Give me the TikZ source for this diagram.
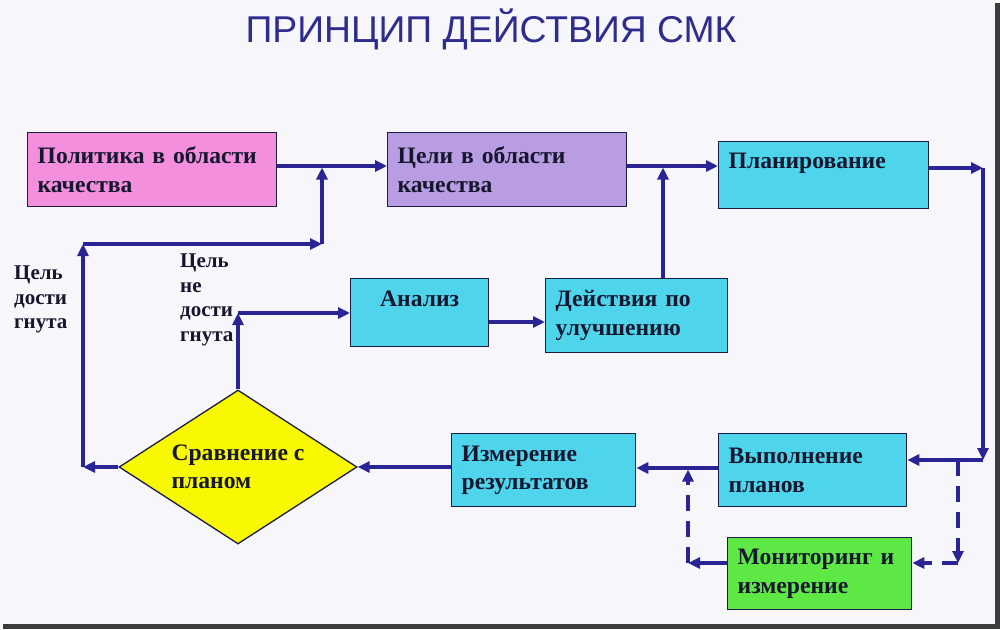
\documentclass[tikz,border=0pt]{standalone}
\usepackage{fontspec}
\setmainfont{Liberation Serif}
\newfontfamily\titlefont{Liberation Sans}
\usetikzlibrary{shapes.geometric,arrows.meta}
\definecolor{bg}{HTML}{F7F7FB}
\definecolor{frame}{HTML}{3C3C3C}
\definecolor{navy}{HTML}{2B2494}
\definecolor{titlec}{HTML}{2E2C8C}
\definecolor{boxline}{HTML}{1C1C44}
\definecolor{txt}{HTML}{16162E}
\definecolor{pinkc}{HTML}{F48FDE}
\definecolor{purplec}{HTML}{B89DE2}
\definecolor{cyanc}{HTML}{4ED5EC}
\definecolor{yellowc}{HTML}{F8F800}
\definecolor{greenc}{HTML}{5EE845}
\begin{document}
\begin{tikzpicture}[x=1pt,y=-1pt,
  box/.style={draw=boxline,line width=1.3pt,anchor=north west,inner xsep=10pt,inner ysep=0pt,
    align=left,font=\fontsize{23.6}{28.5}\selectfont\bfseries,text=txt},
  lbl/.style={anchor=north west,inner sep=0pt,align=left,text=txt,
    font=\fontsize{21}{24.5}\selectfont\bfseries},
  conn/.style={draw=navy,line width=3.5pt,-{Triangle[length=12pt,width=11pt]}},
  dconn/.style={conn,dash pattern=on 16pt off 10pt}]
\fill[bg] (0,0) rectangle (1000,629);
\useasboundingbox (0,0) rectangle (1000,629);
\fill[frame] (995,3) rectangle (1000,629);
\fill[frame] (3,624) rectangle (1000,629);

\node[anchor=base,inner sep=0pt,text=titlec,font=\titlefont\fontsize{37.3}{42}\selectfont] (title) at (491,42) {ПРИНЦИП ДЕЙСТВИЯ СМК};

\node[box,fill=pinkc,minimum width=249pt,minimum height=74pt,text width=229pt] (polit) at (27,132) {Политика в области\\качества};
\node[box,fill=purplec,minimum width=239pt,minimum height=74pt,text width=219pt] (goals) at (387,132) {Цели в области\\качества};
\node[box,fill=cyanc,minimum width=210pt,minimum height=67pt,text width=190pt] (plan) at (718,141) {Планирование\\\mbox{}};
\node[box,fill=cyanc,minimum width=138pt,minimum height=68pt,text width=118pt,align=center] (anal) at (350,278) {Анализ\\\mbox{}};
\node[box,fill=cyanc,minimum width=182pt,minimum height=74pt,text width=162pt] (act) at (545,278) {Действия по\\улучшению};
\node[draw=boxline,line width=1.3pt,fill=yellowc,diamond,aspect=1.55,minimum width=238pt,minimum height=154pt,inner sep=0pt,align=left,text=txt,font=\fontsize{23.6}{28.5}\selectfont\bfseries] (diam) at (238,467) {Сравнение с\\планом};
\node[box,fill=cyanc,minimum width=184pt,minimum height=73pt,text width=164pt] (meas) at (451,433) {Измерение\\результатов};
\node[box,fill=cyanc,minimum width=188pt,minimum height=73pt,text width=168pt] (exec) at (718,433) {Выполнение\\планов};
\node[box,fill=greenc,minimum width=184pt,minimum height=72pt,text width=164pt] (mon) at (727,537) {Мониторинг и\\измерение};

\node[lbl] (lab1) at (14,266) {Цель\\дости\\гнута};
\node[lbl] (lab2) at (180,254) {Цель\\не\\дости\\гнута};

\coordinate (j1) at (322,166);
\coordinate (c1) at (83,467);
\coordinate (c2) at (83,244);
\coordinate (c3) at (322,244);
\coordinate (c4) at (238,313);
\coordinate (j2) at (663,166);
\coordinate (c5) at (983,168);
\coordinate (c6) at (983,460);
\coordinate (d1) at (958,460);
\coordinate (d2) at (958,563);
\coordinate (m1) at (688,563);
\coordinate (j3) at (688,468);
\coordinate (a1) at (500,322);

\draw[conn] (polit.east |- j1) -- (goals.west |- j1);
\draw[conn] (diam.west) -- (c1);
\draw[conn] (c1) -- (c2);
\draw[conn] (c2) -- (c3);
\draw[conn,shorten >=1.5pt] (c3) -- (j1);
\draw[conn] (diam.north) -- (c4);
\draw[conn] (c4) -- (anal.west |- c4);
\draw[conn] (anal.east |- a1) -- (act.west |- a1);
\draw[conn,shorten >=1.5pt] (act.north -| j2) -- (j2);
\draw[conn] (goals.east |- j1) -- (plan.west |- j1);
\draw[conn] (plan.east |- c5) -- (c5);
\draw[conn] (c5) -- (c6);
\draw[conn] (c6) -- (exec.east |- c6);
\draw[conn] (exec.west |- j3) -- (meas.east |- j3);
\draw[conn] (meas.west |- diam) -- (diam.east);
\draw[dconn] (d1) -- (d2);
\draw[dconn] (d2) -- (mon.east |- d2);
\draw[conn] (mon.west |- m1) -- (m1);
\draw[dconn,shorten >=1.5pt] (m1) -- (j3);
\end{tikzpicture}
\end{document}
